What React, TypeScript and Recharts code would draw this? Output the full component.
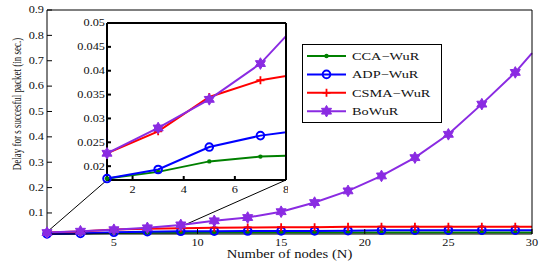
import React from 'react'
import { LineChart, Line, XAxis, YAxis, Legend, ReferenceLine, ReferenceDot, CartesianGrid } from 'recharts'

// number of nodes (x) and delay per scheme (sec.)
const nodes = [1, 3, 5, 7, 9, 11, 13, 15, 17, 19, 21, 23, 25, 27, 29, 30]
const ccaWur = [0.0174, 0.0188, 0.021, 0.022, 0.0224, 0.0228, 0.023, 0.023, 0.0231, 0.0232, 0.0232, 0.0233, 0.0233, 0.0233, 0.0234, 0.0234]
const adpWur = [0.0174, 0.0193, 0.024, 0.0264, 0.0278, 0.0284, 0.0288, 0.029, 0.0292, 0.03, 0.0318, 0.032, 0.0321, 0.0322, 0.0322, 0.0322]
const csmaWur = [0.0227, 0.0273, 0.0345, 0.038, 0.0398, 0.042, 0.043, 0.0438, 0.044, 0.0455, 0.0458, 0.046, 0.046, 0.0461, 0.0461, 0.0461]
const boWur = [0.0227, 0.028, 0.034, 0.0415, 0.053, 0.069, 0.082, 0.105, 0.141, 0.187, 0.246, 0.318, 0.41, 0.529, 0.654, 0.73]

const mainXTicks = [5, 10, 15, 20, 25, 30]
const mainYTicks = [0.1, 0.2, 0.3, 0.4, 0.5, 0.6, 0.7, 0.8, 0.9]
const insetXTicks = [2, 4, 6, 8]
const insetYTicks = [0.02, 0.025, 0.03, 0.035, 0.04, 0.045, 0.05]

// zoom connector ends, in main-axis units
const connectorA = [{ x: 1, y: 0.025 }, { x: 4.59, y: 0.23 }]
const connectorB = [{ x: 9, y: 0.046 }, { x: 15.29, y: 0.23 }]

const series = [
  { key: 'cca', name: 'CCA\u2212WuR', values: ccaWur, color: '#008000', marker: 'dot' },
  { key: 'adp', name: 'ADP\u2212WuR', values: adpWur, color: '#0000ff', marker: 'circle' },
  { key: 'csma', name: 'CSMA\u2212WuR', values: csmaWur, color: '#ff0000', marker: 'plus' },
  { key: 'bo', name: 'BoWuR', values: boWur, color: '#8a2be2', marker: 'hexagram' },
]

const rows = nodes.map((n, i) => {
  const r: any = { n }
  series.forEach((s) => (r[s.key] = s.values[i]))
  return r
})

const SERIF = '"Liberation Serif", "Times New Roman", serif'
const SX = 1.28 // the figure is stretched horizontally

function hexagram(cx: number, cy: number, R: number) {
  const r = R / Math.sqrt(3)
  const pts: string[] = []
  for (let k = 0; k < 12; k++) {
    const a = (Math.PI / 6) * k - Math.PI / 2
    const rad = k % 2 === 0 ? R : r
    pts.push(`${(cx + rad * Math.cos(a)).toFixed(2)},${(cy + rad * Math.sin(a)).toFixed(2)}`)
  }
  return 'M' + pts.join('L') + 'Z'
}

function Marker({ kind, cx, cy, color }: { kind: string; cx: number; cy: number; color: string }) {
  if (cx == null || cy == null) return null
  if (kind === 'dot') return <circle cx={cx} cy={cy} r={2.2} fill={color} />
  if (kind === 'circle') return <circle cx={cx} cy={cy} r={3.8} fill="none" stroke={color} strokeWidth={2} />
  if (kind === 'plus')
    return <path d={`M${cx - 4},${cy}H${cx + 4}M${cx},${cy - 4}V${cy + 4}`} stroke={color} strokeWidth={1.8} />
  return <path d={hexagram(cx, cy, 5.8)} fill={color} stroke={color} strokeWidth={1} />
}

function STick(props: any) {
  const { x, y, payload, textAnchor, fs, dy } = props
  return (
    <text
      transform={`translate(${x},${y}) scale(${SX},1)`}
      textAnchor={textAnchor}
      dy={dy}
      fontSize={fs}
      fontFamily={SERIF}
      fill="#111"
    >
      {payload.value}
    </text>
  )
}

function LegendBox() {
  return (
    <svg width={140} height={79} style={{ display: 'block' }}>
      <rect x={0.5} y={0.5} width={139} height={78} fill="#fff" stroke="#000" strokeWidth={1} />
      {series.map((s, i) => {
        const y = 12 + i * 18.4
        return (
          <g key={s.key}>
            <line x1={5} x2={44} y1={y} y2={y} stroke={s.color} strokeWidth={2} />
            <Marker kind={s.marker} cx={24.5} cy={y} color={s.color} />
            <text
              transform={`translate(50,${y}) scale(${SX},1)`}
              dy="0.35em"
              fontSize={11.2}
              fontFamily={SERIF}
              fill="#111"
            >
              {s.name}
            </text>
          </g>
        )
      })}
    </svg>
  )
}

function XTitle({ viewBox }: any) {
  const cx = viewBox.x + viewBox.width / 2
  return (
    <text transform={`translate(${cx},257.5) scale(1.22,1)`} textAnchor="middle" fontSize={12} fontFamily={SERIF} fill="#111">
      Number of nodes (N)
    </text>
  )
}

function YTitle() {
  return (
    <text transform="translate(16,104) scale(1.5,1) rotate(-90)" textAnchor="middle" dy="0.35em" fontSize={9} fontFamily={SERIF} fill="#111">
      Delay for s succesful packet (in sec.)
    </text>
  )
}

const mainDot = (s: any) => (p: any) =>
  p.payload.n === 30 ? <g key={p.key} /> : <Marker key={p.key} kind={s.marker} cx={p.cx} cy={p.cy} color={s.color} />

export default function App() {
  return (
    <div style={{ position: 'fixed', left: 0, top: 0, width: 541, height: 262, background: '#fff' }}>
      <LineChart width={541} height={262} data={rows} margin={{ top: 9, right: 8, bottom: 0, left: 0 }}>
        <XAxis
          xAxisId="b"
          dataKey="n"
          type="number"
          domain={[1, 30]}
          ticks={mainXTicks}
          interval={0}
          height={28}
          tickSize={-5}
          tickMargin={10.5}
          stroke="#000"
          tick={(p: any) => <STick {...p} fs={9.6} dy="0.71em" />}
          label={{ content: XTitle }}
        />
        <XAxis xAxisId="t" orientation="top" dataKey="n" type="number" domain={[1, 30]} ticks={mainXTicks} height={1} tickSize={-5} tick={false} stroke="#000" />
        <YAxis
          yAxisId="l"
          type="number"
          domain={[0.0171, 0.9]}
          ticks={mainYTicks}
          interval={0}
          width={47}
          tickSize={-5}
          tickMargin={8}
          stroke="#000"
          tick={(p: any) => <STick {...p} fs={9.6} dy="0.35em" />}
          label={{ content: YTitle }}
        />
        <YAxis yAxisId="r" orientation="right" type="number" domain={[0.0171, 0.9]} ticks={mainYTicks} width={1} tickSize={-5} tick={false} stroke="#000" />
        <ReferenceLine xAxisId="b" yAxisId="l" segment={connectorA} stroke="#000" strokeWidth={1} ifOverflow="visible" />
        <ReferenceLine xAxisId="b" yAxisId="l" segment={connectorB} stroke="#000" strokeWidth={1} ifOverflow="visible" />
        {series.map((s) => (
          <Line
            key={s.key}
            xAxisId="b"
            yAxisId="l"
            dataKey={s.key}
            name={s.name}
            stroke={s.color}
            strokeWidth={2}
            dot={mainDot(s)}
            activeDot={false}
            isAnimationActive={false}
          />
        ))}
        <Legend
          layout="vertical"
          align="center"
          verticalAlign="middle"
          wrapperStyle={{ left: 302, top: 44, width: 140, height: 79 }}
          content={LegendBox}
        />
      </LineChart>

      <div style={{ position: 'absolute', left: 55, top: 14 }}>
        <LineChart width={233} height={182} data={rows} margin={{ top: 8, right: 1, bottom: 0, left: 0 }}>
          <CartesianGrid xAxisId="b" yAxisId="l" horizontal={false} vertical={false} fill="#fff" fillOpacity={1} />
          <XAxis
            xAxisId="b"
            dataKey="n"
            type="number"
            domain={[1, 8]}
            allowDataOverflow
            ticks={insetXTicks}
            interval={0}
            height={16}
            tickSize={-4}
            tickMargin={10.5}
            stroke="#000"
            strokeWidth={2}
            tick={(p: any) => <STick {...p} fs={9.6} dy="0.71em" />}
          />
          <XAxis xAxisId="t" orientation="top" dataKey="n" type="number" domain={[1, 8]} allowDataOverflow ticks={insetXTicks} height={1} tickSize={-4} tick={false} stroke="#000" strokeWidth={2} />
          <YAxis
            yAxisId="l"
            type="number"
            domain={[0.0171, 0.05]}
            allowDataOverflow
            ticks={insetYTicks}
            interval={0}
            width={52}
            tickSize={-4}
            tickMargin={6}
            stroke="#000"
            strokeWidth={2}
            tick={(p: any) => <STick {...p} fs={9.6} dy="0.35em" />}
          />
          <YAxis yAxisId="r" orientation="right" type="number" domain={[0.0171, 0.05]} allowDataOverflow ticks={insetYTicks} width={1} tickSize={-4} tick={false} stroke="#000" strokeWidth={2} />
          {series.map((s) => (
            <Line
              key={s.key}
              xAxisId="b"
              yAxisId="l"
              dataKey={s.key}
              stroke={s.color}
              strokeWidth={2}
              dot={false}
              activeDot={false}
              isAnimationActive={false}
            />
          ))}
          {series.map((s) =>
            nodes.map((n, i) => (
              <ReferenceDot
                key={`${s.key}-${n}`}
                xAxisId="b"
                yAxisId="l"
                x={n}
                y={s.values[i]}
                ifOverflow="discard"
                shape={(p: any) => <Marker kind={s.marker} cx={p.cx} cy={p.cy} color={s.color} />}
              />
            ))
          )}
        </LineChart>
      </div>
    </div>
  )
}
